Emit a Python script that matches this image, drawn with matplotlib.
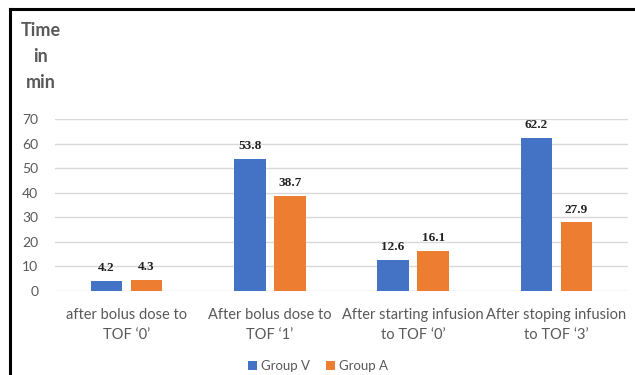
import matplotlib
matplotlib.use("Agg")
import matplotlib.pyplot as plt
import numpy as np
from matplotlib.lines import Line2D

categories = ["after bolus dose to\nTOF \u20180\u2019", "After bolus dose to\nTOF \u20181\u2019",
              "After starting infusion\nto TOF \u20180\u2019", "After stoping infusion\nto TOF \u20183\u2019"]
group_v = [4.2, 53.8, 12.6, 62.2]
group_a = [4.3, 38.7, 16.1, 27.9]
series_names = ["Group V", "Group A"]
yticks = [0, 10, 20, 30, 40, 50, 60, 70]

blue = "#4472C4"
orange = "#ED7D31"
txt = "#595959"
font = "Lato"

fig = plt.figure(figsize=(6.35, 3.75), dpi=100)
ax = fig.add_axes([55/635, 1-291/375, (628-55)/635, (291-119)/375])

x = np.arange(len(categories))
w = 0.22
off = 0.14
b1 = ax.bar(x - off, group_v, w, color=blue, label=series_names[0], zorder=3)
b2 = ax.bar(x + off, group_a, w, color=orange, label=series_names[1], zorder=3)

for bars, vals in ((b1, group_v), (b2, group_a)):
    for r, v in zip(bars, vals):
        ax.annotate(f"{v}", (r.get_x() + r.get_width()/2, v), xytext=(0, 5),
                    textcoords="offset points", ha="center", va="bottom",
                    fontsize=9.5, fontweight="bold", family="Liberation Serif", color="#222222")

ax.set_xlim(-0.5, 3.5)
ax.set_ylim(0, 70)
ax.set_yticks(yticks)
ax.set_yticklabels([str(t) for t in yticks], fontsize=10, family=font, color=txt)
ax.set_xticks(x)
ax.set_xticklabels(categories, fontsize=10.5, family=font, color=txt, linespacing=1.55)
ax.tick_params(axis="both", length=0)
ax.tick_params(axis="y", pad=12)
ax.tick_params(axis="x", pad=12)
for s in ax.spines.values():
    s.set_visible(False)
ax.yaxis.grid(True, color="#D9D9D9", linewidth=1, zorder=0)
ax.set_axisbelow(True)

for label, ypix in (("Time", 30), ("in", 57), ("min", 82)):
    fig.text(41/635, 1-ypix/375, label, ha="center", va="center", fontsize=13,
             fontweight="bold", family=font, color=txt)

leg = fig.legend(handles=[b1, b2], labels=series_names, loc="center", bbox_to_anchor=(318/635, 1-366/375),
                 ncol=2, frameon=False, prop={"family": font, "size": 9.5}, handlelength=0.7,
                 handleheight=0.7, handletextpad=0.3, columnspacing=1.2)
for t in leg.get_texts():
    t.set_color(txt)

fig.add_artist(Line2D([10/635, 10/635], [0, 1-9/375], color="black", linewidth=2.2, transform=fig.transFigure))
fig.add_artist(Line2D([10/635, 1], [1-9/375, 1-9/375], color="black", linewidth=2.2, transform=fig.transFigure))

fig.savefig("out.png", dpi=100, facecolor="white")
